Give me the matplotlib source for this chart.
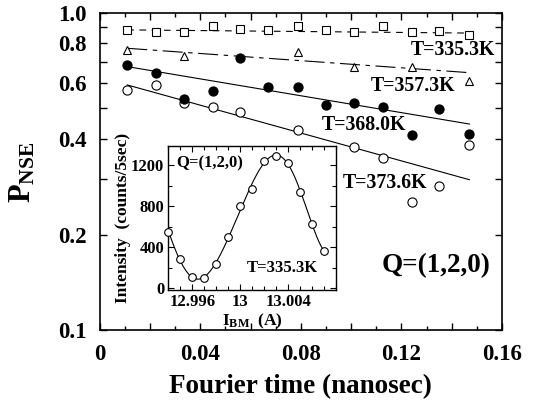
import numpy as np
import matplotlib
matplotlib.use("Agg")
import matplotlib.pyplot as plt
from matplotlib.ticker import FixedLocator, FuncFormatter, MultipleLocator, NullFormatter

plt.rcParams['font.family'] = ['Liberation Serif', 'DejaVu Serif']
plt.rcParams['font.weight'] = 'bold'
plt.rcParams['mathtext.fontset'] = 'custom'
plt.rcParams['mathtext.rm'] = 'Liberation Serif:bold'
plt.rcParams['mathtext.bf'] = 'Liberation Serif:bold'
plt.rcParams['mathtext.it'] = 'Liberation Serif:bold'

# ---- main data: NSE polarisation vs Fourier time ----
t_all = [0.011, 0.0225, 0.0335, 0.045, 0.056, 0.067, 0.079, 0.090, 0.101, 0.1125, 0.124, 0.135, 0.147]
p_335 = [0.882, 0.867, 0.867, 0.910, 0.888, 0.882, 0.910, 0.882, 0.871, 0.904, 0.871, 0.878, 0.851]
t_357 = [0.011, 0.0335, 0.079, 0.101, 0.124, 0.147]
p_357 = [0.763, 0.732, 0.754, 0.676, 0.676, 0.610]
p_368 = [0.684, 0.644, 0.535, 0.568, 0.722, 0.585, 0.585, 0.5125, 0.521, 0.504, 0.413, 0.497, 0.414]
t_373 = [0.011, 0.0225, 0.0335, 0.045, 0.056, 0.079, 0.101, 0.1125, 0.124, 0.135, 0.147]
p_373 = [0.571, 0.592, 0.521, 0.504, 0.488, 0.428, 0.377, 0.350, 0.254, 0.285, 0.383]

# fitted exponential decay lines (value at start and end)
fit_t = [0.011, 0.147]
fit_335 = [0.882, 0.862]
fit_357 = [0.772, 0.647]
fit_368 = [0.676, 0.446]
fit_373 = [0.592, 0.298]

labels_T = ["T=335.3K", "T=357.3K", "T=368.0K", "T=373.6K"]

# ---- inset data: intensity vs I_BM ----
i_bm = [12.994, 12.995, 12.996, 12.997, 12.998, 12.999, 13.000,
        13.001, 13.002, 13.003, 13.004, 13.005, 13.006, 13.007]
counts = [543, 286, 104, 98, 237, 498, 803, 969, 1246, 1294, 1226, 943, 628, 358]

fig = plt.figure(figsize=(5.47, 4.05), dpi=100)
ax = fig.add_axes([0.182, 0.184, 0.736, 0.785])

ms = 6.3
ax.plot(fit_t, fit_335, color='black', lw=0.8, linestyle=(0, (6, 5)))
ax.plot(fit_t, fit_357, color='black', lw=0.8, linestyle=(0, (18, 5, 4, 5)))
ax.plot(fit_t, fit_368, color='black', lw=0.8)
ax.plot(fit_t, fit_373, color='black', lw=0.8)
ax.plot(t_all, p_335, 's', ms=ms, mfc='white', mec='black', mew=0.8)
ax.plot(t_357, p_357, '^', ms=ms, mfc='white', mec='black', mew=0.8)
ax.plot(t_373, p_373, 'o', ms=ms + 0.3, mfc='white', mec='black', mew=0.8)
ax.plot(t_all, p_368, 'o', ms=ms + 0.3, mfc='black', mec='black', mew=0.8)

ax.set_yscale('log')
ax.set_xlim(0, 0.16)
ax.set_ylim(0.1, 1.0)
ax.xaxis.set_major_locator(MultipleLocator(0.02))
ax.xaxis.set_minor_locator(MultipleLocator(0.01))
ax.xaxis.set_major_formatter(FuncFormatter(
    lambda v, p: ('0' if abs(v) < 1e-9 else f'{v:.2f}') if abs(round(v / 0.04) * 0.04 - v) < 1e-9 else ''))
yt = [0.1, 0.2, 0.3, 0.4, 0.5, 0.6, 0.7, 0.8, 0.9, 1.0]
ylab = {0.1: '0.1', 0.2: '0.2', 0.4: '0.4', 0.6: '0.6', 0.8: '0.8', 1.0: '1.0'}
ax.yaxis.set_major_locator(FixedLocator(yt))
ax.yaxis.set_minor_locator(FixedLocator([]))
ax.yaxis.set_major_formatter(FuncFormatter(lambda v, p: ylab.get(round(v, 1), '')))
ax.yaxis.set_minor_formatter(NullFormatter())
ax.tick_params(which='both', direction='in', top=True, right=True, width=1.0,
               labelsize=16.5, pad=9)
ax.tick_params(which='major', length=5)
ax.tick_params(which='minor', length=3)
ax.tick_params(axis='x', pad=10)
for s in ax.spines.values():
    s.set_linewidth(1.2)

ax.set_xlabel('Fourier time (nanosec)', fontsize=19.5, fontweight='bold', labelpad=6)
fig.text(0.042, 0.575, r'$\mathbf{P}_{\mathbf{NSE}}$', fontsize=22, rotation=90,
         ha='center', va='center')

ax.text(0.1236, 0.765, labels_T[0], fontsize=14.3, ha='left', va='center')
ax.text(0.1077, 0.588, labels_T[1], fontsize=14.3, ha='left', va='center')
ax.text(0.0885, 0.444, labels_T[2], fontsize=14.3, ha='left', va='center')
ax.text(0.0968, 0.291, labels_T[3], fontsize=14.3, ha='left', va='center')
ax.text(0.1120, 0.160, 'Q=(1,2,0)', fontsize=19.5, ha='left', va='center')

# ---- inset ----
ins = fig.add_axes([0.3077, 0.284, 0.3066, 0.3556])
xb = np.asarray(i_bm)
yc = np.asarray(counts, float)
x0 = xb.mean()
best = None
for per in np.linspace(0.008, 0.020, 241):
    k = 2 * np.pi / per
    A = np.column_stack([np.ones_like(xb), xb - x0, np.cos(k * (xb - x0)), np.sin(k * (xb - x0)),
                         (xb - x0) * np.cos(k * (xb - x0)), (xb - x0) * np.sin(k * (xb - x0))])
    coef, res, *_ = np.linalg.lstsq(A, yc, rcond=None)
    r = np.sum((A @ coef - yc) ** 2)
    if best is None or r < best[0]:
        best = (r, k, coef)
_, k, coef = best
xf = np.linspace(xb.min(), xb.max(), 300)
Af = np.column_stack([np.ones_like(xf), xf - x0, np.cos(k * (xf - x0)), np.sin(k * (xf - x0)),
                      (xf - x0) * np.cos(k * (xf - x0)), (xf - x0) * np.sin(k * (xf - x0))])
ins.plot(xf, Af @ coef, color='black', lw=0.8)
ins.plot(i_bm, counts, 'o', ms=5.5, mfc='white', mec='black', mew=0.8, clip_on=False, zorder=3)
ins.set_xlim(12.994, 13.008)
ins.set_ylim(-20, 1390)
ins.xaxis.set_major_locator(FixedLocator([12.996, 13.0, 13.004]))
ins.xaxis.set_minor_locator(MultipleLocator(0.001))
ins.xaxis.set_major_formatter(FuncFormatter(lambda v, p: f'{v:g}'))
ins.yaxis.set_major_locator(MultipleLocator(400))
ins.yaxis.set_minor_locator(MultipleLocator(200))
ins.tick_params(which='both', direction='in', top=True, right=True, width=0.8,
                labelsize=12, pad=3)
ins.tick_params(which='major', length=4)
ins.tick_params(which='minor', length=3)
for s in ins.spines.values():
    s.set_linewidth(1.0)
ins.set_ylabel('Intensity  (counts/5sec)', fontsize=12.5, fontweight='bold', labelpad=0)
ins.set_xlabel(r'I$_{\mathrm{BM}}$  (A)', fontsize=12.5, fontweight='bold', labelpad=1)
ins.text(0.05, 0.88, 'Q=(1,2,0)', transform=ins.transAxes, fontsize=12, ha='left', va='center')
ins.text(0.89, 0.15, 'T=335.3K', transform=ins.transAxes, fontsize=12, ha='right', va='center')

fig.savefig('out.png', dpi=100)
